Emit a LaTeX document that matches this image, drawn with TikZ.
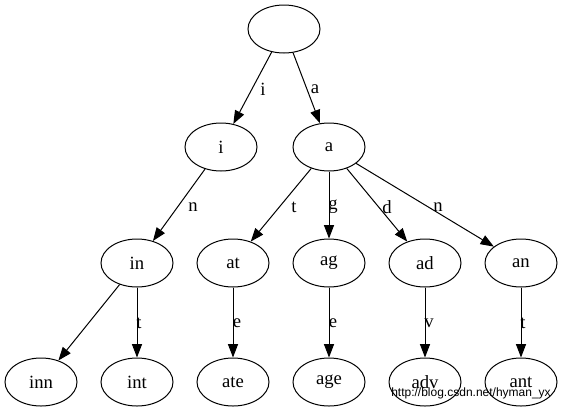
\documentclass[tikz,border=0pt]{standalone}
\usepackage{fontspec}
\setmainfont{Liberation Serif}
\newfontfamily\wmfont{Liberation Sans}
\usetikzlibrary{arrows.meta,shapes.geometric}
\tikzset{
  trie/.style={ellipse,draw,line width=0.75pt,minimum width=54pt,minimum height=36pt,inner sep=0pt,font=\fontsize{14pt}{16pt}\selectfont},
  lbl/.style={inner sep=0pt,font=\fontsize{14pt}{16pt}\selectfont},
  arr/.style={line width=0.75pt,-{Triangle[length=10pt,width=7.5pt]}}
}
\begin{document}
\begin{tikzpicture}[x=0.75pt,y=-0.75pt]
\fill[white] (0,0) rectangle (563,411);
\useasboundingbox (0,0) rectangle (563,411);
\node[trie] (root) at (284,29) {};
\node[trie] (i) at (221,147) {i};
\node[trie] (a) at (329,147) {a};
\node[trie] (in) at (137,263) {in};
\node[trie] (at) at (233,263) {at};
\node[trie] (ag) at (329,263) {ag};
\node[trie] (ad) at (425,263) {ad};
\node[trie] (an) at (521,263) {an};
\node[trie] (inn) at (41,382) {inn};
\node[trie] (int) at (137,382) {int};
\node[trie] (ate) at (233,382) {ate};
\node[trie] (age) at (329,382) {age};
\node[trie] (adv) at (425,382) {adv};
\node[trie] (ant) at (521,382) {ant};
\draw[arr] (root) -- (i) node[lbl] at (263,89) {i};
\draw[arr] (root) -- (a) node[lbl] at (315,89) {a};
\draw[arr] (i) -- (in) node[lbl] at (193,207) {n};
\draw[arr] (a) -- (at) node[lbl] at (294,207) {t};
\draw[arr] (a) -- (ag) node[lbl] at (333,207) {g};
\draw[arr] (a) -- (ad) node[lbl] at (387,207) {d};
\draw[arr] (a) -- (an) node[lbl] at (438,207) {n};
\draw[arr] (in) -- (inn);
\draw[arr] (in) -- (int) node[lbl] at (139,323) {t};
\draw[arr] (at) -- (ate) node[lbl] at (237,323) {e};
\draw[arr] (ag) -- (age) node[lbl] at (333,323) {e};
\draw[arr] (ad) -- (adv) node[lbl] at (429,323) {v};
\draw[arr] (an) -- (ant) node[lbl] at (523,323) {t};
\node[inner sep=0pt,font=\wmfont\fontsize{9pt}{10pt}\selectfont] (wm) at (471,393) {http://blog.csdn.net/hyman\_yx};
\end{tikzpicture}
\end{document}
